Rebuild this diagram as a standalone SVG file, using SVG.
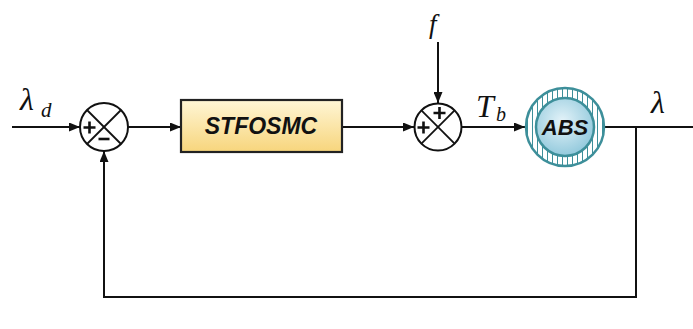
<svg xmlns="http://www.w3.org/2000/svg" width="693" height="329" viewBox="0 0 693 329">
<style>
.ln{fill:none;stroke:#111;stroke-width:2}
.sum{fill:#fff;stroke:#111;stroke-width:2}
.x{stroke:#111;stroke-width:1.8}
.sg{fill:none;stroke:#111;stroke-width:2.6}
.math{font-family:"Liberation Serif",serif;font-style:italic;fill:#111}
.lbl{font-family:"Liberation Sans",Arial,sans-serif;font-weight:bold;font-style:italic;fill:#111;text-anchor:middle}
</style>
<defs>
<marker id="arr" viewBox="0 0 11 9" refX="11" refY="4.5" markerWidth="11" markerHeight="9" markerUnits="userSpaceOnUse" orient="auto">
<path d="M0,0 L11,4.5 L0,9 Z" fill="#111"/>
</marker>
<linearGradient id="boxg" x1="0" y1="0" x2="0" y2="1">
<stop offset="0" stop-color="#fff6d6"/>
<stop offset="1" stop-color="#f7d57c"/>
</linearGradient>
<radialGradient id="absg" cx="0.45" cy="0.4" r="0.65">
<stop offset="0" stop-color="#e4f3f9"/>
<stop offset="1" stop-color="#8cc6da"/>
</radialGradient>
<pattern id="hatch" width="5" height="5" patternUnits="userSpaceOnUse">
<rect width="5" height="5" fill="#fff"/>
<line x1="2.5" y1="0" x2="2.5" y2="5" stroke="#3d8f9a" stroke-width="1"/>
</pattern>
</defs>

<g id="connectors">
<line class="ln" x1="12" y1="127" x2="80" y2="127" marker-end="url(#arr)"/>
<line class="ln" x1="128" y1="127" x2="181" y2="127" marker-end="url(#arr)"/>
<line class="ln" x1="342" y1="127" x2="414" y2="127" marker-end="url(#arr)"/>
<line class="ln" x1="438" y1="42" x2="438" y2="103" marker-end="url(#arr)"/>
<line class="ln" x1="461" y1="127" x2="525" y2="127" marker-end="url(#arr)"/>
<line class="ln" x1="605" y1="127" x2="693" y2="127"/>
<polyline class="ln" points="636,127 636,297 104,297 104,151" marker-end="url(#arr)"/>
</g>

<g id="label_lambda_d">
<text class="math" x="20" y="110" font-size="32">λ</text>
<text class="math" x="41" y="117" font-size="21">d</text>
</g>

<g id="sum1">
<circle class="sum" cx="104" cy="127" r="24"/>
<line class="x" x1="87" y1="110" x2="121" y2="144"/>
<line class="x" x1="121" y1="110" x2="87" y2="144"/>
<path class="sg" d="M83.5,127.5 h12 M89.5,121.5 v12"/>
<path class="sg" d="M98.5,139 h11"/>
</g>

<g id="controller">
<rect x="181" y="100" width="161" height="52" fill="url(#boxg)" stroke="#222" stroke-width="2.2"/>
<text class="lbl" x="261" y="134" font-size="23">STFOSMC</text>
</g>

<g id="label_f">
<text class="math" x="429" y="33" font-size="27">f</text>
</g>

<g id="sum2">
<circle class="sum" cx="438" cy="127" r="23.5"/>
<line class="x" x1="421.4" y1="110.4" x2="454.6" y2="143.6"/>
<line class="x" x1="454.6" y1="110.4" x2="421.4" y2="143.6"/>
<path class="sg" d="M417.5,127.5 h12 M423.5,121.5 v12"/>
<path class="sg" d="M433.5,113 h12 M439.5,107 v12"/>
</g>

<g id="label_Tb">
<text class="math" x="476" y="117" font-size="32">T</text>
<text class="math" x="496" y="121" font-size="20">b</text>
</g>

<g id="abs">
<circle cx="565" cy="127" r="39" fill="url(#hatch)" stroke="#3d8f9a" stroke-width="2.5"/>
<circle cx="565" cy="127" r="29" fill="url(#absg)" stroke="#3d8f9a" stroke-width="2.5"/>
<text class="lbl" x="565" y="135" font-size="22">ABS</text>
</g>

<g id="label_lambda">
<text class="math" x="651" y="113" font-size="32">λ</text>
</g>
</svg>
